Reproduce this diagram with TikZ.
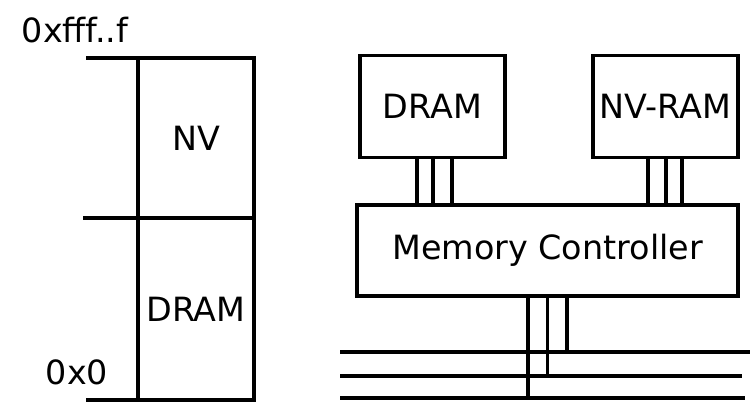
\documentclass[tikz,border=0pt]{standalone}
\usepackage{fontspec}
\setmainfont{DejaVu Sans}
\usepackage{tikz}
\usetikzlibrary{positioning, calc}

\begin{document}
\begin{tikzpicture}[
        every node/.style={font=\fontsize{19}{23}\selectfont},
        region/.style={rectangle, minimum width=2.32cm, inner sep=1pt, outer sep=0pt, draw=black, line width=2pt, text centered},
        chip/.style={rectangle, minimum width=2.9cm, minimum height=2.04cm, inner sep=1pt, outer sep=0pt, draw=black, line width=2pt, text centered},
        wire/.style={line width=2pt, black}
    ]
        \useasboundingbox (0,0) rectangle (15.02,8.06);

        % address map
        \node (nvreg) [region, minimum height=3.2cm] at (3.92,5.30) {NV};
        \node (dramreg) [region, minimum height=3.64cm, below=0cm of nvreg] {DRAM};
        \node (hiaddr) at (1.5,7.46) {0xfff..f};
        \node (loaddr) at (1.54,0.62) {0x0};

        \draw [wire] (nvreg.north west) -- ++(-1.04,0);
        \draw [wire] (nvreg.south west) -- ++(-1.10,0);
        \draw [wire] (dramreg.south west) -- ++(-1.04,0);

        % memory system
        \node (mc) [chip, minimum width=7.62cm, minimum height=1.82cm] at (10.95,3.05) {Memory Controller};
        \node (dram) [chip] at (8.65,5.93) {DRAM};
        \node (nvram) [chip] at (13.31,5.93) {NV-RAM};

        \coordinate (busa) at (6.8,1.02);
        \coordinate (busb) at (6.8,0.54);
        \coordinate (busc) at (6.8,0.10);
        \coordinate (busa end) at (15.0,1.02);
        \coordinate (busb end) at (14.84,0.54);
        \coordinate (busc end) at (14.9,0.10);

        \foreach \dx in {-0.31,0.01,0.39}
            \draw [wire] ([xshift=\dx cm]dram.south) -- ([xshift=\dx cm]dram.south |- mc.north);
        \foreach \dx in {-0.35,0.01,0.33}
            \draw [wire] ([xshift=\dx cm]nvram.south) -- ([xshift=\dx cm]nvram.south |- mc.north);

        \draw [wire] (busa) -- (busa end);
        \draw [wire] (busb) -- (busb end);
        \draw [wire] (busc) -- (busc end);

        \draw [wire] ([xshift=-0.39cm]mc.south) -- ([xshift=-0.39cm]mc.south |- busc);
        \draw [wire] (mc.south) -- (mc.south |- busb);
        \draw [wire] ([xshift=0.39cm]mc.south) -- ([xshift=0.39cm]mc.south |- busa);
    \end{tikzpicture}
\end{document}
